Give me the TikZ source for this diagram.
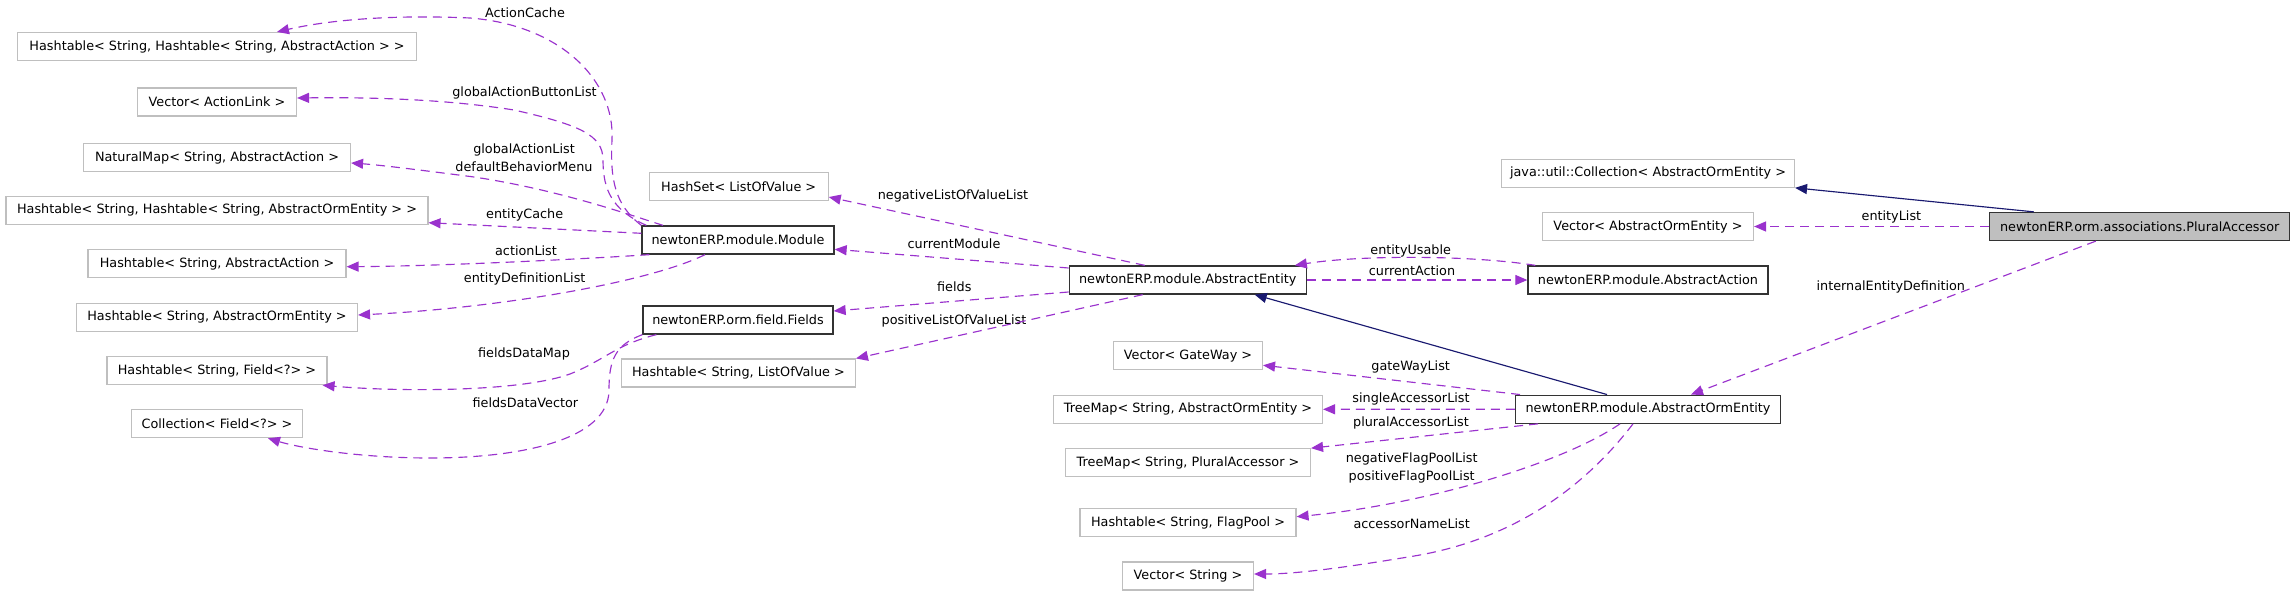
\documentclass[tikz,border=0pt]{standalone}
\usepackage{fontspec}
\setmainfont{DejaVu Sans}
\usepackage{xcolor}
\usepackage{tikz}
\usetikzlibrary{arrows.meta}
\usetikzlibrary{positioning}

\definecolor{memberpurple}{HTML}{9A32CD}
\definecolor{basenavy}{HTML}{191970}
\definecolor{extgray}{HTML}{BFBFBF}

\begin{document}
\begin{tikzpicture}[->, >={Triangle[length=12pt, width=10pt]}, x=1pt, y=-1pt,
	font=\fontsize{12.8}{18.3}\selectfont, align=center,
	main node/.style={rectangle, draw=black!80, line width=1.3pt, minimum height=28pt, inner xsep=3pt, inner ysep=0pt},
	main gray/.style={rectangle, draw=extgray, line width=1.1pt, minimum height=28pt, inner xsep=3pt, inner ysep=0pt},
	main focus/.style={main node, fill=extgray},
	member/.style={draw=memberpurple, line width=1.15pt, dash pattern=on 9pt off 6pt},
	base/.style={draw=basenavy, line width=1.15pt},
	edge text/.style={inner sep=1pt},
]
\useasboundingbox (0,0) rectangle (2296,596);
% types on the left
\node [main gray, minimum width=399] at (217, 46.5) (htAction) {Hashtable< String, Hashtable< String, AbstractAction > >};
\node [main gray, minimum width=159] at (217, 102) (vecLink) {Vector< ActionLink >};
\node [main gray, minimum width=267] at (217, 157.5) (natMap) {NaturalMap< String, AbstractAction >};
\node [main gray, minimum width=422] at (217, 210.3) (htOrmCache) {Hashtable< String, Hashtable< String, AbstractOrmEntity > >};
\node [main gray, minimum width=258] at (217, 263.7) (htActList) {Hashtable< String, AbstractAction >};
\node [main gray, minimum width=281] at (217, 317.3) (htOrm) {Hashtable< String, AbstractOrmEntity >};
\node [main gray, minimum width=220] at (217, 370.7) (htField) {Hashtable< String, Field<?> >};
\node [main gray, minimum width=171] at (217, 423.7) (colField) {Collection< Field<?> >};
%
\node [main gray, minimum width=179] at (738.7, 186.5) (hashSet) {HashSet< ListOfValue >};
\node [main node, minimum width=192] at (738, 240) (module) {newtonERP.module.Module};
\node [main node, minimum width=190] at (738, 320) (fields) {newtonERP.orm.field.Fields};
\node [main gray, minimum width=234] at (738.4, 373) (htValue) {Hashtable< String, ListOfValue >};
%
\node [main node, minimum width=237] at (1187.7, 280) (entity) {newtonERP.module.AbstractEntity};
\node [main gray, minimum width=149] at (1188, 355.7) (vecGate) {Vector< GateWay >};
\node [main gray, minimum width=269] at (1188, 409.3) (tmOrm) {TreeMap< String, AbstractOrmEntity >};
\node [main gray, minimum width=245] at (1188, 462.7) (tmPlural) {TreeMap< String, PluralAccessor >};
\node [main gray, minimum width=216] at (1188, 522.7) (htFlag) {Hashtable< String, FlagPool >};
\node [main gray, minimum width=131] at (1188, 576) (vecString) {Vector< String >};
%
\node [main gray, minimum width=293] at (1648, 173.3) (javaColl) {java::util::Collection< AbstractOrmEntity >};
\node [main gray, minimum width=211] at (1648, 226.5) (vecOrm) {Vector< AbstractOrmEntity >};
\node [main node, minimum width=240] at (1648, 280) (action) {newtonERP.module.AbstractAction};
\node [main node, minimum width=265] at (1648, 409.2) (ormEntity) {newtonERP.module.AbstractOrmEntity};
\node [main focus, minimum width=300] at (2139.7, 226.5) (plural) {newtonERP.orm.associations.PluralAccessor};
%
% member labels
\node [edge text] at (525, 12.7) (lCache) {ActionCache};
\node [edge text] at (524.5, 92.7) (lButton) {globalActionButtonList};
\node [edge text] at (524, 157.5) (lGlobal) {globalActionList\\defaultBehaviorMenu};
\node [edge text] at (524.7, 215) (lEntCache) {entityCache};
\node [edge text] at (526, 250.7) (lActList) {actionList};
\node [edge text] at (524.7, 279.3) (lEntDef) {entityDefinitionList};
\node [edge text] at (524, 354) (lDataMap) {fieldsDataMap};
\node [edge text] at (525.4, 402.7) (lDataVec) {fieldsDataVector};
\node [edge text] at (953, 195.7) (lNegLov) {negativeListOfValueList};
\node [edge text] at (954, 243.3) (lCurMod) {currentModule};
\node [edge text] at (954.3, 286.7) (lFields) {fields};
\node [edge text] at (954, 320.7) (lPosLov) {positiveListOfValueList};
\node [edge text] at (1410.7, 250.7) (lUsable) {entityUsable};
\node [edge text] at (1412, 270.7) (lCurAct) {currentAction};
\node [edge text] at (1891.4, 216.7) (lEntList) {entityList};
\node [edge text] at (1890.8, 287.3) (lInternal) {internalEntityDefinition};
\node [edge text] at (1410.7, 366.7) (lGate) {gateWayList};
\node [edge text] at (1411, 399.3) (lSingle) {singleAccessorList};
\node [edge text] at (1411, 422.7) (lPlural) {pluralAccessorList};
\node [edge text] at (1411.7, 468.3) (lFlag) {negativeFlagPoolList\\positiveFlagPoolList};
\node [edge text] at (1411.7, 523.3) (lAccessor) {accessorNameList};
%
\draw [member] (module.north west) .. controls (615,205) and (610,180) .. (612,140) .. controls (615,80) and (560,25) .. (470,18) .. controls (380,14) and (320,22) .. ([xshift=60]htAction.north);
\draw [member] ([xshift=5]module.north west) .. controls (612,210) and (603,190) .. (603,160) .. controls (603,135) and (580,125) .. (514,110) .. controls (450,100) and (380,97) .. ([yshift=4]vecLink.east);
\draw [member] ([xshift=-75]module.north) .. controls (630,215) and (560,190) .. (474,177) .. controls (420,170) and (380,165) .. ([yshift=-5.5]natMap.east);
\draw [member] ([yshift=6.7]module.west) -- ([yshift=-12.4]htOrmCache.east);
\draw [member] ([xshift=8]module.south west) .. controls (600,258) and (450,266) .. ([yshift=-3]htActList.east);
\draw [member] ([xshift=-33]module.south) .. controls (650,282) and (500,308) .. ([yshift=2.3]htOrm.east);
\draw [member] ([xshift=14]fields.south west) .. controls (615,345) and (605,360) .. (570,374) .. controls (520,392) and (400,392) .. ([xshift=-5]htField.south east);
\draw [member] (fields.south west) .. controls (615,345) and (609,360) .. (609,390) .. controls (609,440) and (520,458) .. (430,458) .. controls (360,458) and (300,448) .. ([xshift=51]colField.south);
%
\draw [member] ([xshift=-43]entity.north) -- ([yshift=4]hashSet.south east);
\draw [member] ([yshift=12]entity.west) -- ([yshift=-9.3]module.east);
\draw [member] ([yshift=-12]entity.west) -- ([yshift=9]fields.east);
\draw [member] ([xshift=-45]entity.south) -- (htValue.north east);
\draw [member] ([xshift=8]action.north west) .. controls (1470,255) and (1360,255) .. ([xshift=-12]entity.north east);
\draw [member] (entity.east) -- (action.west);
\draw [base] ([xshift=-41]ormEntity.north) -- ([xshift=67]entity.south);
%
\draw [base] ([xshift=-106]plural.north) -- (javaColl.south east);
\draw [member] (plural.west) -- (vecOrm.east);
\draw [member] ([xshift=-44]plural.south) -- ([xshift=43]ormEntity.north);
%
\draw [member] ([xshift=-128]ormEntity.north) -- ([yshift=5]vecGate.south east);
\draw [member] (ormEntity.west) -- (tmOrm.east);
\draw [member] ([xshift=-110]ormEntity.south) -- (tmPlural.north east);
\draw [member] ([xshift=-28]ormEntity.south) .. controls (1560,465) and (1420,505) .. ([yshift=6]htFlag.east);
\draw [member] ([xshift=-15]ormEntity.south) .. controls (1590,480) and (1520,540) .. (1408,557) .. controls (1330,570) and (1290,574) .. ([yshift=2]vecString.east);
\end{tikzpicture}
\end{document}
